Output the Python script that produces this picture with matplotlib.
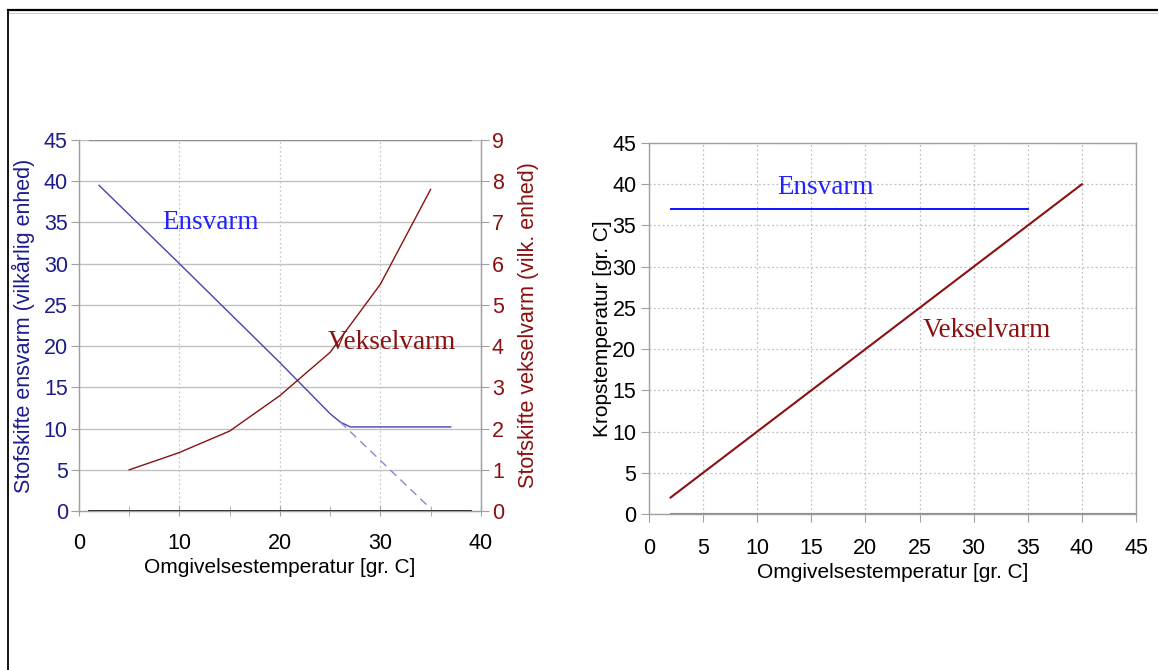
import matplotlib
matplotlib.use("Agg")
import matplotlib.pyplot as plt
from matplotlib.lines import Line2D

plt.rcParams['font.family'] = ['Liberation Sans', 'DejaVu Sans']

# ---- Data: left panel (metabolism) ----
ens_x = [2, 10, 15, 20, 25, 26, 27, 37]
ens_y = [39.5, 30, 24, 18, 11.8, 10.8, 10.2, 10.2]
ens_ext_x = [26, 35]
ens_ext_y = [10.8, 0.3]
veks_x = [5, 8, 10, 15, 20, 25, 30, 35]
veks_y = [1.0, 1.25, 1.42, 1.94, 2.8, 3.85, 5.5, 7.8]

# ---- Data: right panel (body temperature) ----
body_ens_x = [2, 35]
body_ens_y = [37, 37]
body_veks_x = [2, 40]
body_veks_y = [2, 40]

left_xticks = [0, 10, 20, 30, 40]
left_yticks = [0, 5, 10, 15, 20, 25, 30, 35, 40, 45]
right_yticks = [0, 1, 2, 3, 4, 5, 6, 7, 8, 9]
r_ticks = [0, 5, 10, 15, 20, 25, 30, 35, 40, 45]

NAVY = '#1c1c8c'
BLUE_LINE = '#4444b0'
BLUE_TXT = '#2222ff'
DRED = '#8b1010'
GRAY = '#a0a0a0'

TICK_FS = 15.5
LAB_FS = 15
TXT_FS = 19.5

fig = plt.figure(figsize=(11.58, 6.70), dpi=100)

# Outer frame lines
fig.add_artist(Line2D([0.0069, 1.0], [0.985, 0.985], color='black', lw=1.6, transform=fig.transFigure))
fig.add_artist(Line2D([0.0069, 1.0], [0.981, 0.981], color='#cccccc', lw=0.8, transform=fig.transFigure))
fig.add_artist(Line2D([0.0069, 0.0069], [0.0, 0.985], color='black', lw=1.3, transform=fig.transFigure))

# ---------------- Left panel ----------------
ax = fig.add_axes([0.0682, 0.2373, 0.347, 0.5537])
ax.set_xlim(0, 40)
ax.set_ylim(0, 45)
ax.set_xticks(left_xticks)
ax.set_xticks([5, 15, 25, 35], minor=True)
ax.set_yticks(left_yticks)
for y in left_yticks[1:]:
    ax.axhline(y, color='#c0c0c0', lw=1.0, zorder=0)
for x in [10, 20, 30]:
    ax.axvline(x, color='#c8c8c8', lw=0.9, ls=(0, (1.5, 2)), zorder=0)
ax.plot([1, 39], [0, 0], color='black', lw=1.3, zorder=2, clip_on=False)
ax.plot([1, 39], [45, 45], color='#909090', lw=1.0, zorder=2)
for s in ['left', 'right', 'bottom', 'top']:
    ax.spines[s].set_color(GRAY)
    ax.spines[s].set_linewidth(0.9)
ax.spines['top'].set_visible(False)
ax.tick_params(axis='x', which='both', direction='inout', length=7, color=GRAY, labelsize=TICK_FS, labelcolor='black', pad=12)
ax.tick_params(axis='y', direction='out', length=6, color=GRAY, labelsize=TICK_FS, labelcolor=NAVY, pad=2)

ax.plot(ens_x, ens_y, color=BLUE_LINE, lw=1.0, zorder=3)
ax.plot(ens_ext_x, ens_ext_y, color='#8888d0', lw=1.0, ls=(0, (6, 4)), zorder=3)
ax.text(8.3, 35, 'Ensvarm', color=BLUE_TXT, family='Liberation Serif', fontsize=TXT_FS, va='center', ha='left')
ax.text(24.8, 20.5, 'Vekselvarm', color=DRED, family='Liberation Serif', fontsize=TXT_FS, va='center', ha='left')
ax.set_xlabel('Omgivelsestemperatur [gr. C]', fontsize=LAB_FS, labelpad=3)
ax.set_ylabel('Stofskifte ensvarm (vilkårlig enhed)', fontsize=15.5, color=NAVY, labelpad=6)

ax2 = ax.twinx()
ax2.set_ylim(0, 9)
ax2.set_yticks(right_yticks)
for s in ['left', 'right', 'bottom', 'top']:
    ax2.spines[s].set_color(GRAY)
    ax2.spines[s].set_linewidth(0.9)
ax2.spines['top'].set_visible(False)
ax2.tick_params(axis='y', direction='out', length=6, color=GRAY, labelsize=TICK_FS, labelcolor=DRED, pad=2)
ax2.plot(veks_x, veks_y, color=DRED, lw=1.0, zorder=3)
ax2.set_ylabel('Stofskifte vekselvarm (vilk. enhed)', fontsize=15.5, color=DRED, labelpad=10)

# ---------------- Right panel ----------------
bx = fig.add_axes([0.5604, 0.2328, 0.4206, 0.5537])
bx.set_xlim(0, 45)
bx.set_ylim(0, 45)
bx.set_xticks(r_ticks)
bx.set_yticks(r_ticks)
bx.grid(True, color='#c0c0c0', lw=0.9, ls=(0, (1.5, 2)))
bx.set_axisbelow(True)
for s in ['left', 'right', 'bottom', 'top']:
    bx.spines[s].set_color(GRAY)
    bx.spines[s].set_linewidth(1.0)
bx.plot([2, 45], [0, 0], color='#888888', lw=1.5, zorder=2, clip_on=False)
bx.tick_params(axis='x', direction='out', length=6, color=GRAY, labelsize=TICK_FS, labelcolor='black', pad=11)
bx.tick_params(axis='y', direction='out', length=6, color=GRAY, labelsize=TICK_FS, labelcolor='black', pad=3)
bx.plot(body_ens_x, body_ens_y, color='#1010ff', lw=1.4, zorder=3)
bx.plot(body_veks_x, body_veks_y, color=DRED, lw=1.5, zorder=3)
bx.text(11.9, 39.6, 'Ensvarm', color=BLUE_TXT, family='Liberation Serif', fontsize=TXT_FS, va='center', ha='left')
bx.text(25.3, 22.3, 'Vekselvarm', color=DRED, family='Liberation Serif', fontsize=TXT_FS, va='center', ha='left')
bx.set_xlabel('Omgivelsestemperatur [gr. C]', fontsize=LAB_FS, labelpad=3)
bx.set_ylabel('Kropstemperatur [gr. C]', fontsize=LAB_FS, labelpad=0)

fig.savefig('out.png', dpi=100)
